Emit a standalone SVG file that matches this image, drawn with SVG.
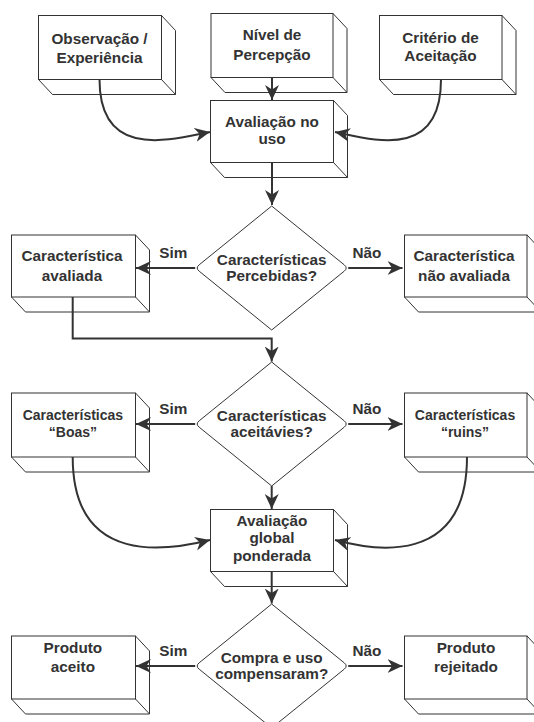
<svg xmlns="http://www.w3.org/2000/svg" width="534" height="722" viewBox="0 0 534 722">
<style>
.bx{fill:#fff;stroke:#333;stroke-width:1}
.ex{fill:none;stroke:#333;stroke-width:1}
.dm{fill:#fff;stroke:#333;stroke-width:1}
.t{font-family:"Liberation Sans",Arial,sans-serif;font-weight:bold;font-size:15.3px;fill:#333;text-anchor:middle}
.s{font-size:14px}
.lbl{font-family:"Liberation Sans",Arial,sans-serif;font-weight:bold;font-size:15.3px;fill:#333}
.c{fill:none;stroke:#333;stroke-width:2}
</style>
<defs>
<marker id="ah" markerUnits="userSpaceOnUse" markerWidth="16" markerHeight="15" refX="15" refY="7" orient="auto" viewBox="0 0 16 14">
<path d="M0,0 L15,7 L0,14 L4.5,7 Z" fill="#333"/>
</marker>
</defs>
<rect width="534" height="722" fill="#fff"/>

<g id="connectors">
<path class="c" d="M99.5,79.5 C99.5,160 170,140 210,132" marker-end="url(#ah)"/>
<path class="c" d="M272,77.5 L272,100" marker-end="url(#ah)"/>
<path class="c" d="M441,79.5 C441,160 374,140 335,132" marker-end="url(#ah)"/>
<path class="c" d="M272,162.5 L272,205" marker-end="url(#ah)"/>
<path class="c" d="M195.2,268 L136,268" marker-end="url(#ah)"/>
<path class="c" d="M348.2,268 L402.5,268" marker-end="url(#ah)"/>
<path class="c" d="M72.7,297 L72.7,338.5 L271.7,338.5 L271.7,361.5" marker-end="url(#ah)"/>
<path class="c" d="M195.2,424 L136,424" marker-end="url(#ah)"/>
<path class="c" d="M348.2,424 L402.5,424" marker-end="url(#ah)"/>
<path class="c" d="M271.7,486 L271.7,509" marker-end="url(#ah)"/>
<path class="c" d="M72.7,457 C72.7,568 170,550 210,540" marker-end="url(#ah)"/>
<path class="c" d="M467,457 C467,568 372,550 335,540" marker-end="url(#ah)"/>
<path class="c" d="M271.7,571.5 L271.7,603.5" marker-end="url(#ah)"/>
<path class="c" d="M195.2,666 L136,666" marker-end="url(#ah)"/>
<path class="c" d="M348.2,666 L402.5,666" marker-end="url(#ah)"/>
</g>

<g id="n-observacao">
<rect class="bx" x="38.5" y="15.5" width="123" height="64"/>
<path class="ex" d="M161.5,15.5 L175.5,30.5 L175.5,94.5 L52.5,94.5 L38.5,79.5 M161.5,79.5 L175.5,94.5"/>
<text class="t" x="99.5" y="43.5">Observação /</text>
<text class="t" x="99.5" y="63">Experiência</text>
</g>

<g id="n-nivel">
<rect class="bx" x="211" y="13.5" width="122" height="64"/>
<path class="ex" d="M333,13.5 L347,28.5 L347,92.5 L225,92.5 L211,77.5 M333,77.5 L347,92.5"/>
<text class="t" x="272" y="40">Nível de</text>
<text class="t" x="272" y="59.5">Percepção</text>
</g>

<g id="n-criterio">
<rect class="bx" x="379.5" y="15.5" width="122.5" height="64"/>
<path class="ex" d="M502,15.5 L516,30.5 L516,94.5 L393.5,94.5 L379.5,79.5 M502,79.5 L516,94.5"/>
<text class="t" x="440.5" y="42.5">Critério de</text>
<text class="t" x="440.5" y="61.3">Aceitação</text>
</g>

<g id="n-avaliacao-uso">
<rect class="bx" x="210.5" y="100.5" width="123" height="62"/>
<path class="ex" d="M333.5,100.5 L347.5,115.5 L347.5,177.5 L224.5,177.5 L210.5,162.5 M333.5,162.5 L347.5,177.5"/>
<text class="t" x="272" y="126.7">Avaliação no</text>
<text class="t" x="272" y="144.3">uso</text>
</g>

<g id="d-percebidas">
<path class="dm" d="M271.7,206 L344.2,264.8 Q348.2,268 344.2,271.2 L271.7,330 L199.2,271.2 Q195.2,268 199.2,264.8 Z"/>
<text class="t" x="271.7" y="264.5">Características</text>
<text class="t" x="271.7" y="281">Percebidas?</text>
<text class="lbl" x="173.4" y="258" text-anchor="middle">Sim</text>
<text class="lbl" x="352.5" y="257.5">Não</text>
</g>

<g id="n-avaliada">
<rect class="bx" x="11.5" y="235" width="124" height="62"/>
<path class="ex" d="M135.5,235 L149.5,250 L149.5,312 L25.5,312 L11.5,297 M135.5,297 L149.5,312"/>
<text class="t" x="72" y="261.3">Característica</text>
<text class="t" x="72" y="280.7">avaliada</text>
</g>

<g id="n-nao-avaliada">
<rect class="bx" x="404.5" y="235" width="122.5" height="62"/>
<path class="ex" d="M527,235 L541,250 L541,312 L418.5,312 L404.5,297 M527,297 L541,312"/>
<text class="t" x="464" y="261.3">Característica</text>
<text class="t" x="464" y="280.7">não avaliada</text>
</g>

<g id="d-aceitaveis">
<path class="dm" d="M271.7,362 L344.2,420.8 Q348.2,424 344.2,427.2 L271.7,486 L199.2,427.2 Q195.2,424 199.2,420.8 Z"/>
<text class="t" x="271.7" y="420.5">Características</text>
<text class="t" x="271.7" y="437">aceitávies?</text>
<text class="lbl" x="173.4" y="414" text-anchor="middle">Sim</text>
<text class="lbl" x="352.5" y="413.5">Não</text>
</g>

<g id="n-boas">
<rect class="bx" x="11.5" y="393" width="124" height="64"/>
<path class="ex" d="M135.5,393 L149.5,408 L149.5,472 L25.5,472 L11.5,457 M135.5,457 L149.5,472"/>
<text class="t s" x="72.9" y="420.3">Características</text>
<text class="t s" x="72.9" y="436.6">“Boas”</text>
</g>

<g id="n-ruins">
<rect class="bx" x="404.5" y="393" width="122.5" height="64"/>
<path class="ex" d="M527,393 L541,408 L541,472 L418.5,472 L404.5,457 M527,457 L541,472"/>
<text class="t s" x="465" y="420.3">Características</text>
<text class="t s" x="465" y="436.6">“ruins”</text>
</g>

<g id="n-avaliacao-global">
<rect class="bx" x="210.5" y="509.5" width="123" height="62"/>
<path class="ex" d="M333.5,509.5 L347.5,524.5 L347.5,586.5 L224.5,586.5 L210.5,571.5 M333.5,571.5 L347.5,586.5"/>
<text class="t" x="272" y="525.7">Avaliação</text>
<text class="t" x="272" y="543.3">global</text>
<text class="t" x="272" y="560.5">ponderada</text>
</g>

<g id="d-compensaram">
<path class="dm" d="M271.7,604 L344.2,662.8 Q348.2,666 344.2,669.2 L271.7,728 L199.2,669.2 Q195.2,666 199.2,662.8 Z"/>
<text class="t" x="271.7" y="662.5">Compra e uso</text>
<text class="t" x="271.7" y="679.3">compensaram?</text>
<text class="lbl" x="173.4" y="656" text-anchor="middle">Sim</text>
<text class="lbl" x="352.5" y="655.5">Não</text>
</g>

<g id="n-aceito">
<rect class="bx" x="11.5" y="636" width="124" height="63"/>
<path class="ex" d="M135.5,636 L149.5,651 L149.5,714 L25.5,714 L11.5,699 M135.5,699 L149.5,714"/>
<text class="t" x="72.9" y="653">Produto</text>
<text class="t" x="72.9" y="671.8">aceito</text>
</g>

<g id="n-rejeitado">
<rect class="bx" x="404.5" y="636" width="122.5" height="63"/>
<path class="ex" d="M527,636 L541,651 L541,714 L418.5,714 L404.5,699 M527,699 L541,714"/>
<text class="t" x="466" y="653">Produto</text>
<text class="t" x="466" y="671.8">rejeitado</text>
</g>
</svg>
